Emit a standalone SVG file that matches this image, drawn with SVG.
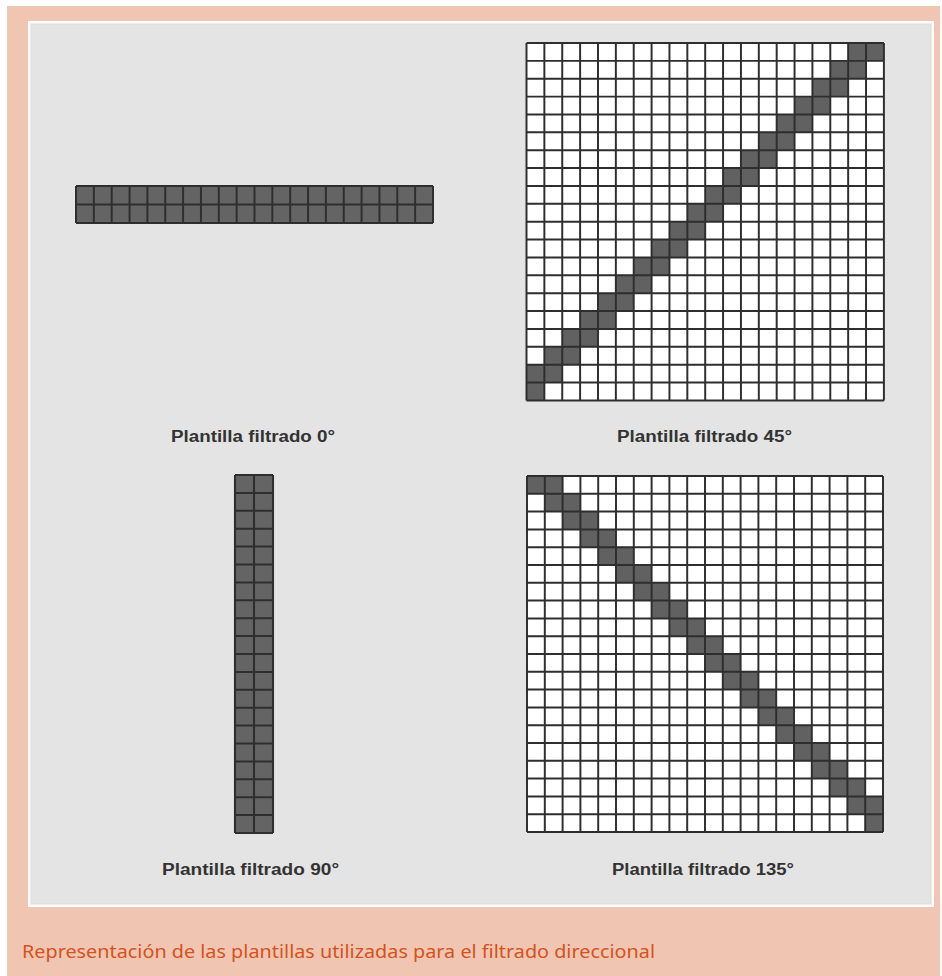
<svg xmlns="http://www.w3.org/2000/svg" xmlns:xlink="http://www.w3.org/1999/xlink" width="942" height="976" viewBox="0 0 942 976">
  <style>
    .ln { fill: none; stroke: #2e2e2e; stroke-width: 0.11; }
    .bar { fill: #646464; }
    .dk { fill: #616161; }
    .wt { fill: #ffffff; }
    .lbl { font-family: "Liberation Sans", Arial, sans-serif; font-weight: bold; font-size: 16px; fill: #333333; }
    .cap { font-family: "Noto Sans", "Open Sans", sans-serif; font-size: 18px; fill: #d4521d; }
  </style>
  <defs>
    <path id="grid20" d="M0 0V20M1 0V20M2 0V20M3 0V20M4 0V20M5 0V20M6 0V20M7 0V20M8 0V20M9 0V20M10 0V20M11 0V20M12 0V20M13 0V20M14 0V20M15 0V20M16 0V20M17 0V20M18 0V20M19 0V20M20 0V20M0 0H20M0 1H20M0 2H20M0 3H20M0 4H20M0 5H20M0 6H20M0 7H20M0 8H20M0 9H20M0 10H20M0 11H20M0 12H20M0 13H20M0 14H20M0 15H20M0 16H20M0 17H20M0 18H20M0 19H20M0 20H20"/>
    <path id="hbar" d="M0 0V2M1 0V2M2 0V2M3 0V2M4 0V2M5 0V2M6 0V2M7 0V2M8 0V2M9 0V2M10 0V2M11 0V2M12 0V2M13 0V2M14 0V2M15 0V2M16 0V2M17 0V2M18 0V2M19 0V2M20 0V2M0 0H20M0 1H20M0 2H20"/>
    <path id="vbar" d="M0 0H2M0 1H2M0 2H2M0 3H2M0 4H2M0 5H2M0 6H2M0 7H2M0 8H2M0 9H2M0 10H2M0 11H2M0 12H2M0 13H2M0 14H2M0 15H2M0 16H2M0 17H2M0 18H2M0 19H2M0 20H2M0 0V20M1 0V20M2 0V20"/>
    <path id="diag" d="M0 0h2v1h-2zM1 1h2v1h-2zM2 2h2v1h-2zM3 3h2v1h-2zM4 4h2v1h-2zM5 5h2v1h-2zM6 6h2v1h-2zM7 7h2v1h-2zM8 8h2v1h-2zM9 9h2v1h-2zM10 10h2v1h-2zM11 11h2v1h-2zM12 12h2v1h-2zM13 13h2v1h-2zM14 14h2v1h-2zM15 15h2v1h-2zM16 16h2v1h-2zM17 17h2v1h-2zM18 18h2v1h-2zM19 19h1v1h-1z"/>
  </defs>

  <rect width="942" height="976" fill="#ffffff"/>
  <rect x="7" y="6" width="933" height="970" fill="#f0c6b2"/>
  <rect x="28" y="21" width="906" height="886" fill="#ffffff"/>
  <rect x="31" y="24" width="900" height="880" fill="#e4e4e4" stroke="#dadada" stroke-width="1"/>

  <g id="template-0">
    <g transform="translate(76,186) scale(17.85,18.5)">
      <rect class="bar" width="20" height="2"/>
      <use href="#hbar" class="ln"/>
    </g>
    <text class="lbl" x="171" y="442" textLength="164" lengthAdjust="spacingAndGlyphs">Plantilla filtrado 0°</text>
  </g>

  <g id="template-45">
    <g transform="translate(526.5,43) scale(17.87)">
      <rect class="wt" width="20" height="20"/>
      <use href="#diag" class="dk" transform="translate(20,0) scale(-1,1)"/>
      <use href="#grid20" class="ln"/>
    </g>
    <text class="lbl" x="617" y="442" textLength="175" lengthAdjust="spacingAndGlyphs">Plantilla filtrado 45°</text>
  </g>

  <g id="template-90">
    <g transform="translate(235,475) scale(19,17.9)">
      <rect class="bar" width="2" height="20"/>
      <use href="#vbar" class="ln"/>
    </g>
    <text class="lbl" x="162" y="875" textLength="177" lengthAdjust="spacingAndGlyphs">Plantilla filtrado 90°</text>
  </g>

  <g id="template-135">
    <g transform="translate(527,476) scale(17.8)">
      <rect class="wt" width="20" height="20"/>
      <use href="#diag" class="dk"/>
      <use href="#grid20" class="ln"/>
    </g>
    <text class="lbl" x="612" y="875" textLength="182" lengthAdjust="spacingAndGlyphs">Plantilla filtrado 135°</text>
  </g>

  <g id="connectors"></g>

  <text class="cap" x="22" y="958" textLength="633" lengthAdjust="spacingAndGlyphs">Representación de las plantillas utilizadas para el filtrado direccional</text>
</svg>
